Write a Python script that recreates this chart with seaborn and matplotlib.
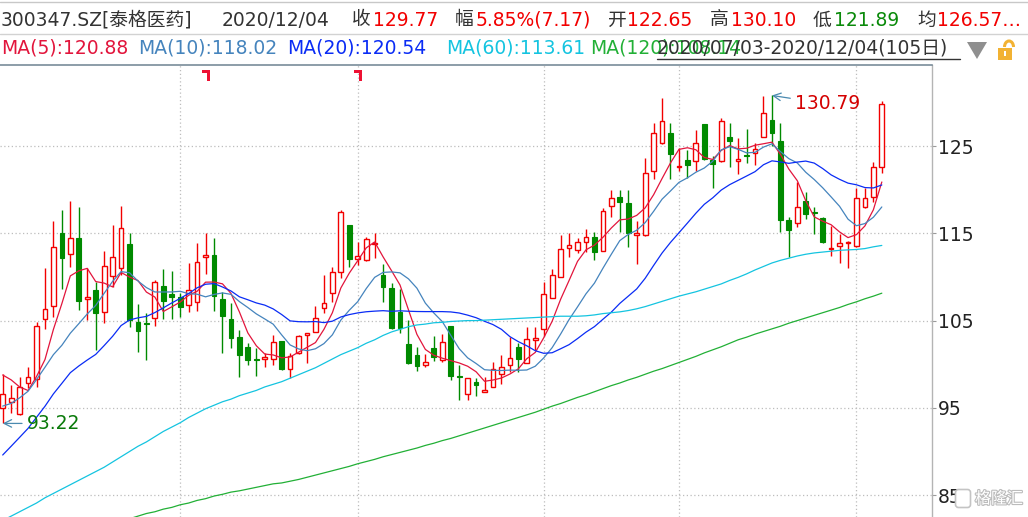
import numpy as np
import pandas as pd
import matplotlib
matplotlib.use("Agg")
import matplotlib.pyplot as plt
import matplotlib.transforms as mtransforms
import matplotlib.patheffects as pe
from matplotlib.lines import Line2D
from matplotlib.patches import Polygon, Rectangle, Arc, FancyBboxPatch
import seaborn as sns

# ---------------- data ----------------
stock_name = "300347.SZ[泰格医药]"
last_date = "2020/12/04"
range_start = "2020/07/03"
avg_price_text = "126.57…"

opens = [95.02, 95.63, 94.26, 97.81, 98.27, 105.14, 106.67, 114.99, 112.59, 114.42,
         107.50, 108.50, 106.02, 110.14, 110.98, 113.77, 104.80, 104.70, 105.25, 108.96,
         108.04, 107.74, 106.78, 107.09, 112.28, 112.51, 107.47, 105.14, 103.15, 101.93,
         100.63, 100.56, 100.56, 102.66, 99.41, 101.25, 103.31, 103.73, 106.40, 108.20,
         110.60, 115.95, 112.09, 111.94, 113.77, 110.22, 108.69, 106.02, 102.31, 101.05,
         99.91, 101.82, 100.48, 104.38, 98.65, 96.55, 98.00, 96.78, 97.43, 98.84,
         99.91, 101.93, 100.18, 102.73, 104.00, 107.55, 110.03, 113.28, 113.08, 114.04,
         114.53, 113.00, 118.12, 119.11, 118.50, 114.80, 114.81, 122.14, 125.38, 126.45,
         122.56, 123.40, 123.32, 127.52, 123.40, 123.28, 126.00, 123.32, 123.97, 124.24,
         126.07, 127.98, 125.57, 116.52, 116.14, 118.70, 117.44, 116.79, 113.20, 113.58,
         113.93, 113.55, 117.97, 119.12, 122.65]

highs = [98.88, 97.62, 98.57, 99.72, 104.87, 110.98, 116.40, 117.66, 118.69, 117.97,
         110.98, 109.45, 113.00, 115.95, 118.12, 115.07, 106.90, 105.83, 109.65, 110.87,
         110.71, 108.12, 111.55, 113.85, 114.99, 114.42, 108.31, 107.05, 103.92, 102.39,
         101.82, 101.32, 103.35, 102.70, 101.25, 103.35, 103.60, 106.67, 110.22, 111.17,
         117.66, 116.00, 114.04, 114.53, 114.99, 111.48, 109.26, 108.58, 105.06, 101.93,
         101.17, 103.23, 103.46, 104.41, 99.91, 98.46, 98.38, 98.57, 100.29, 101.05,
         103.16, 102.47, 104.30, 104.30, 109.45, 110.87, 114.80, 115.07, 114.42, 115.45,
         115.11, 117.85, 119.95, 119.95, 119.95, 116.37, 123.59, 127.67, 130.46, 127.60,
         124.73, 124.54, 126.83, 127.55, 123.85, 128.17, 127.67, 125.88, 126.91, 125.38,
         130.70, 130.79, 127.67, 116.90, 120.91, 119.77, 118.05, 116.90, 115.87, 114.92,
         114.08, 120.15, 120.15, 123.20, 130.10]

lows = [93.22, 94.45, 94.18, 97.24, 97.43, 104.00, 105.37, 108.58, 111.10, 106.21,
        105.06, 101.63, 104.76, 108.88, 110.22, 104.30, 101.44, 100.48, 104.41, 105.18,
        105.14, 105.37, 106.02, 106.13, 110.33, 106.13, 101.33, 101.82, 98.50, 99.91,
        98.65, 99.72, 99.91, 99.34, 98.38, 101.17, 100.18, 103.73, 105.83, 107.16,
        109.84, 111.10, 111.36, 111.86, 112.13, 107.16, 104.00, 103.54, 100.02, 99.26,
        99.72, 100.37, 100.29, 98.19, 95.90, 95.90, 96.36, 96.78, 97.36, 97.74,
        99.15, 99.15, 100.10, 101.63, 103.23, 107.55, 110.03, 112.32, 112.70, 112.89,
        111.94, 113.00, 116.82, 115.18, 113.39, 111.44, 114.73, 121.18, 125.19, 121.18,
        122.17, 121.30, 122.17, 123.40, 120.23, 123.20, 122.56, 121.79, 123.09, 122.82,
        125.99, 125.00, 115.19, 112.25, 115.68, 116.60, 114.88, 113.93, 112.44, 111.64,
        110.99, 113.47, 117.86, 118.62, 121.89]

closes = [96.55, 96.09, 97.35, 98.57, 104.38, 106.29, 113.39, 112.13, 114.42, 107.28,
          107.70, 105.83, 111.25, 112.24, 115.56, 105.06, 103.84, 104.64, 109.38, 107.28,
          107.74, 106.59, 108.50, 111.67, 112.51, 107.81, 105.56, 103.04, 101.05, 100.48,
          100.48, 100.79, 102.51, 99.41, 100.98, 103.23, 103.54, 105.25, 106.97, 110.52,
          117.40, 112.05, 112.36, 114.30, 113.92, 108.88, 104.11, 104.19, 100.10, 99.83,
          100.25, 100.79, 102.51, 98.69, 98.50, 98.38, 97.62, 97.05, 99.41, 99.64,
          100.67, 100.60, 102.85, 103.00, 108.00, 110.18, 113.16, 113.62, 113.96, 114.61,
          112.89, 117.59, 119.00, 118.62, 115.07, 114.98, 121.87, 126.53, 127.90, 124.05,
          122.71, 122.82, 125.38, 123.47, 122.90, 127.90, 125.61, 123.47, 123.85, 124.62,
          128.74, 126.53, 116.52, 115.38, 117.97, 117.26, 117.29, 114.04, 113.35, 113.85,
          114.00, 119.01, 119.01, 122.60, 129.77]

# closes before the visible window (needed for the short moving averages)
prior_closes = [76, 77, 78, 79, 81, 85, 88, 90, 92, 94,
                93, 91, 91, 91, 92.2, 98.9, 101.4, 100.6, 96.4]

ma60 = [82.1, 82.6, 83.1, 83.6, 84.1, 84.7, 85.2, 85.7, 86.2, 86.7,
        87.2, 87.7, 88.2, 88.8, 89.4, 90.0, 90.6, 91.1, 91.7, 92.3,
        92.8, 93.3, 93.9, 94.4, 94.9, 95.3, 95.7, 96.0, 96.4, 96.7,
        97.0, 97.4, 97.7, 98.0, 98.4, 98.8, 99.2, 99.6, 100.1, 100.6,
        101.1, 101.5, 101.9, 102.4, 102.8, 103.3, 103.7, 104.0, 104.3, 104.5,
        104.6, 104.75, 104.8, 104.9, 104.95, 105.0, 105.0, 105.05, 105.1, 105.15,
        105.2, 105.25, 105.3, 105.35, 105.4, 105.45, 105.5, 105.5, 105.5, 105.55,
        105.65, 105.8, 105.9, 106.0, 106.15, 106.35, 106.6, 106.9, 107.2, 107.5,
        107.8, 108.05, 108.3, 108.6, 108.9, 109.2, 109.6, 109.95, 110.35, 110.8,
        111.2, 111.6, 111.9, 112.15, 112.4, 112.6, 112.75, 112.85, 112.95, 113.05,
        113.1, 113.15, 113.25, 113.45, 113.61]

ma120 = [78.3, 78.6, 78.9, 79.2, 79.4, 79.7, 80.0, 80.2, 80.5, 80.8,
         81.0, 81.3, 81.5, 81.8, 82.1, 82.3, 82.6, 82.9, 83.1, 83.4,
         83.6, 83.9, 84.1, 84.4, 84.6, 84.9, 85.1, 85.35, 85.5, 85.7,
         85.9, 86.1, 86.3, 86.4, 86.6, 86.8, 87.05, 87.3, 87.55, 87.8,
         88.05, 88.3, 88.6, 88.85, 89.1, 89.4, 89.65, 89.9, 90.15, 90.4,
         90.7, 90.95, 91.25, 91.5, 91.8, 92.1, 92.4, 92.7, 93.0, 93.3,
         93.6, 93.9, 94.2, 94.5, 94.85, 95.2, 95.5, 95.85, 96.2, 96.5,
         96.85, 97.2, 97.55, 97.85, 98.2, 98.5, 98.85, 99.2, 99.5, 99.85,
         100.2, 100.55, 100.9, 101.3, 101.65, 102.0, 102.4, 102.8, 103.1, 103.45,
         103.75, 104.05, 104.35, 104.7, 105.0, 105.3, 105.6, 105.9, 106.2, 106.5,
         106.85, 107.15, 107.5, 107.8, 108.14]

month_start_idx = [21, 42, 64, 80, 101]
event_idx = [24, 42]
yticks = [85, 95, 105, 115, 125]

# ---------------- styling ----------------
W, H = 1028, 517
RED = "#f20000"
GREEN = "#008a00"
DARK = "#333333"
MA_COLORS = {"MA(5)": "#e2153c", "MA(10)": "#4584bd", "MA(20)": "#0a2cf5",
             "MA(60)": "#14c4e0", "MA(120)": "#22b036"}

sns.set_theme(style="white")
plt.rcParams["font.family"] = ["DejaVu Sans", "Noto Sans CJK SC"]
plt.rcParams["axes.unicode_minus"] = False

fig = plt.figure(figsize=(W / 100, H / 100), dpi=100)
fig.patch.set_facecolor("white")
ax_w_px, ax_h_px = 931.7, 452.0
ax = fig.add_axes([0, 0, ax_w_px / W, ax_h_px / H])
ax.set_facecolor("white")

n = len(closes)
idx = np.arange(n)
o = np.array(opens); c = np.array(closes); h = np.array(highs); l = np.array(lows)

# moving averages
allc = pd.Series(prior_closes + closes, dtype=float)
k = len(prior_closes)
ma5 = allc.rolling(5).mean().iloc[k:].to_numpy()
ma10 = allc.rolling(10).mean().iloc[k:].to_numpy()
ma20 = allc.rolling(20).mean().iloc[k:].to_numpy()
ma_df = pd.concat([
    pd.DataFrame({"idx": idx, "value": ma5, "ma": "MA(5)"}),
    pd.DataFrame({"idx": idx, "value": ma10, "ma": "MA(10)"}),
    pd.DataFrame({"idx": idx, "value": ma20, "ma": "MA(20)"}),
    pd.DataFrame({"idx": idx, "value": np.array(ma60), "ma": "MA(60)"}),
    pd.DataFrame({"idx": idx, "value": np.array(ma120), "ma": "MA(120)"}),
], ignore_index=True)

xmin, xmax = -0.32, 109.9
ymin, ymax = 82.5, 134.28
ax.set_xlim(xmin, xmax)
ax.set_ylim(ymin, ymax)

# candles
up = c >= o
body_lo = np.minimum(o, c)
body_hi = np.maximum(o, c)
body_h = np.maximum(body_hi - body_lo, 0.12)
bw = 0.56
ax.vlines(idx[up], body_hi[up], h[up], color=RED, lw=1.0, zorder=2)
ax.vlines(idx[up], l[up], body_lo[up], color=RED, lw=1.0, zorder=2)
ax.vlines(idx[~up], l[~up], h[~up], color=GREEN, lw=1.0, zorder=2)
ax.bar(idx[up], body_h[up], bottom=body_lo[up], width=bw, facecolor="white",
       edgecolor=RED, linewidth=1.0, zorder=2.1)
ax.bar(idx[~up], body_h[~up], bottom=body_lo[~up], width=bw, facecolor=GREEN,
       edgecolor=GREEN, linewidth=0.8, zorder=2.1)

# moving average lines
sns.lineplot(data=ma_df, x="idx", y="value", hue="ma", palette=MA_COLORS,
             linewidth=0.9, legend=False, ax=ax, zorder=3, sort=False)

# grid
ax.set_yticks(yticks)
ax.set_xticks(month_start_idx)
ax.grid(True, axis="both", color="#bdbdbd", linestyle=(0, (1, 2)), linewidth=0.9, zorder=0)
ax.set_axisbelow(True)
ax.yaxis.tick_right()
ax.tick_params(axis="y", right=True, left=False, length=3, width=0.8, color="#9a9a9a",
               labelsize=13.5, labelcolor="#222222", pad=1.5)
ax.tick_params(axis="x", bottom=False, labelbottom=False, length=0)
ax.set_xlabel(""); ax.set_ylabel("")
for side in ["left", "bottom"]:
    ax.spines[side].set_visible(False)
ax.spines["top"].set_color("#6d8291"); ax.spines["top"].set_linewidth(1.1)
ax.spines["right"].set_color("#b4b4b4"); ax.spines["right"].set_linewidth(1.0)

# event flags along the top edge
trans = mtransforms.blended_transform_factory(ax.transData, ax.transAxes)
ppx = ax_w_px / (xmax - xmin)
flag_px = [(-3.5, -5), (4.5, -5), (4.5, -16), (1.2, -16), (1.2, -7.5), (-3.5, -7.5)]
for e in event_idx:
    verts = [(e + dx / ppx, 1 + dy / ax_h_px) for dx, dy in flag_px]
    ax.add_patch(Polygon(verts, closed=True, transform=trans, facecolor="#ee1133",
                         edgecolor="none", clip_on=False, zorder=5))

# high / low annotations
imax = int(np.argmax(h)); imin = int(np.argmin(l))
ax.annotate(f"{h[imax]:.2f}", xy=(imax, h[imax]), xytext=(23, -8.5), textcoords="offset pixels",
            color="#d40000", fontsize=13.5, ha="left", va="center", zorder=6,
            arrowprops=dict(arrowstyle="->", color="#4a8ab0", lw=0.9, shrinkA=1, shrinkB=0))
ax.annotate(f"{l[imin]:.2f}", xy=(imin, l[imin]), xytext=(24, 0), textcoords="offset pixels",
            color="#0a7a0a", fontsize=13.5, ha="left", va="center", zorder=6,
            arrowprops=dict(arrowstyle="->", color="#4a8ab0", lw=0.9, shrinkA=1, shrinkB=0))

# ---------------- header ----------------
px = mtransforms.Affine2D().scale(1 / W, -1 / H).translate(0, 1) + fig.transFigure


def ptext(x, y, s, color, size=13.5, **kw):
    fig.text(x, y, s, color=color, fontsize=size, va="center", ha="left", transform=px, **kw)


fig.add_artist(Line2D([0, W], [1.5, 1.5], color="#c8c8c8", lw=1, transform=px))
fig.add_artist(Line2D([0, W], [33.5, 33.5], color="#d2d2d2", lw=1, transform=px))

prev_close = c[-2]
chg = c[-1] - prev_close
pct = chg / prev_close * 100
row1_y = 20
ptext(1, row1_y, stock_name, DARK)
ptext(222, row1_y, last_date, DARK)
ptext(352, row1_y, "收", DARK); ptext(373, row1_y, f"{c[-1]:.2f}", RED)
ptext(455, row1_y, "幅", DARK); ptext(476, row1_y, f"{pct:.2f}%({chg:.2f})", RED)
ptext(608, row1_y, "开", DARK); ptext(627, row1_y, f"{o[-1]:.2f}", RED)
ptext(710, row1_y, "高", DARK); ptext(731, row1_y, f"{h[-1]:.2f}", RED)
ptext(813, row1_y, "低", DARK); ptext(834, row1_y, f"{l[-1]:.2f}", "#0a8a0a")
ptext(917, row1_y, "均", DARK); ptext(937, row1_y, avg_price_text, RED)

row2_y = 47.5
last_ma = {"MA(5)": ma5[-1], "MA(10)": ma10[-1], "MA(20)": ma20[-1],
           "MA(60)": ma60[-1], "MA(120)": ma120[-1]}
ma_x = {"MA(5)": 1, "MA(10)": 138, "MA(20)": 287, "MA(60)": 446, "MA(120)": 590}
for name, val in last_ma.items():
    ptext(ma_x[name], row2_y, f"{name}:{val:.2f}", MA_COLORS[name])

ptext(657, row2_y, f"{range_start}-{last_date}({n}日)", DARK)
fig.add_artist(Line2D([657, 960], [59.3, 59.3], color=DARK, lw=1, transform=px))
fig.add_artist(Polygon([(967, 42), (987, 42), (977, 59)], closed=True, facecolor="#8f8f8f",
                       edgecolor="none", transform=px))
# lock icon (open padlock)
fig.add_artist(Arc((1009, 47), 9, 12, theta1=180, theta2=360, color="#f2b233", lw=2.2,
                   transform=px))
fig.add_artist(Rectangle((998, 48), 14, 12, facecolor="#f2b233", edgecolor="none", transform=px))
fig.add_artist(Rectangle((1004, 51), 2, 5, facecolor="white", edgecolor="none", transform=px))

# watermark
fig.add_artist(FancyBboxPatch((956, 490), 14, 17, boxstyle="round,pad=0.5,rounding_size=3",
                              facecolor="white", edgecolor="#c4c4c4", lw=1.2, transform=px))
fig.text(975, 499, "格隆汇", color="white", fontsize=11.5, va="center", ha="left",
         transform=px, family=["Noto Sans CJK SC", "DejaVu Sans"],
         path_effects=[pe.withStroke(linewidth=1.6, foreground="#bcbcbc")])

fig.savefig("out.png", dpi=100, facecolor="white")
